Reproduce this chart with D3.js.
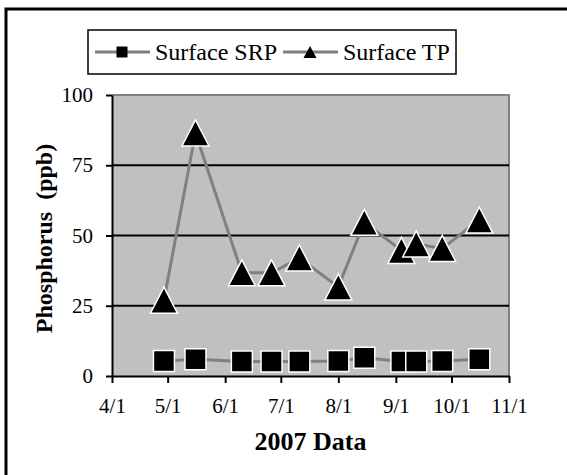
<!DOCTYPE html>
<html>
<head>
<meta charset="utf-8">
<script src="https://cdn.jsdelivr.net/npm/d3@7"></script>
</head>
<body style="margin:0; background:#fff">
<svg id="chart" width="567" height="475"></svg>
<script>

//  sample dates (2007) and readings in ppb
var dates = ['2007-04-29', '2007-05-16', '2007-06-10', '2007-06-26', '2007-07-11',
             '2007-08-01', '2007-08-15', '2007-09-04', '2007-09-12', '2007-09-26', '2007-10-16'];

var srp = [5.3, 6, 5.2, 5.2, 5.2, 5.3, 6.5, 5.2, 5.2, 5.3, 6];

var tp = [27, 86.5, 36.7, 36.7, 42, 31.7, 54.7, 44.7, 47, 45.4, 55.5];

var series_names = ['Surface SRP', 'Surface TP'];

var y_ticks = [0, 25, 50, 75, 100];

var x_ticks = ['2007-04-01', '2007-05-01', '2007-06-01', '2007-07-01',
               '2007-08-01', '2007-09-01', '2007-10-01', '2007-11-01'];

var FONT = 'Liberation Serif';

var parse = d3.timeParse('%Y-%m-%d');
var fmt = d3.timeFormat('%-m/%-d');

var plot = { left: 112, right: 509, top: 95, bottom: 376 };

var svg = d3.select('#chart');

//  outer frame (only top and left edges show)
svg.append('path')
    .attr('d', 'M6,475 L6,9 L567,9')
    .attr('fill', 'none')
    .attr('stroke', '#000')
    .attr('stroke-width', 3);

var x = d3.scaleTime()
    .domain([parse(x_ticks[0]), parse(x_ticks[x_ticks.length - 1])])
    .range([plot.left, plot.right]);

var y = d3.scaleLinear()
    .domain([0, 100])
    .range([plot.bottom, plot.top]);

//  plot background
svg.append('rect')
    .attr('x', plot.left)
    .attr('y', plot.top)
    .attr('width', plot.right - plot.left)
    .attr('height', plot.bottom - plot.top)
    .attr('fill', '#c0c0c0');

svg.append('path')
    .attr('d', 'M' + plot.left + ',' + plot.top + ' L' + plot.right + ',' + plot.top + ' L' + plot.right + ',' + plot.bottom)
    .attr('fill', 'none')
    .attr('stroke', '#808080')
    .attr('stroke-width', 2);

//  gridlines
svg.append('g')
    .selectAll('line')
    .data(y_ticks.filter(function(d) { return d > 0 && d < 100; }))
    .enter()
    .append('line')
    .attr('x1', plot.left)
    .attr('x2', plot.right)
    .attr('y1', function(d) { return y(d); })
    .attr('y2', function(d) { return y(d); })
    .attr('stroke', '#000')
    .attr('stroke-width', 2);

//  axes
var xAxis = svg.append('g')
    .attr('transform', 'translate(0,' + plot.bottom + ')')
    .call(d3.axisBottom(x)
        .tickValues(x_ticks.map(parse))
        .tickFormat(fmt)
        .tickSize(7)
        .tickPadding(15)
        .tickSizeOuter(0));

var yAxis = svg.append('g')
    .attr('transform', 'translate(' + plot.left + ',0)')
    .call(d3.axisLeft(y)
        .tickValues(y_ticks)
        .tickSize(6)
        .tickPadding(13)
        .tickSizeOuter(0));

[xAxis, yAxis].forEach(function(a) {
    a.attr('font-family', FONT).attr('font-size', 21);
    a.select('.domain').attr('stroke', '#000').attr('stroke-width', 2);
    a.selectAll('.tick line').attr('stroke', '#000').attr('stroke-width', 2);
    a.selectAll('.tick text')
        .attr('font-family', FONT)
        .attr('font-size', 21)
        .attr('fill', '#000');
});

//  axis titles
svg.append('text')
    .attr('x', (plot.left + plot.right) / 2)
    .attr('y', 450)
    .attr('text-anchor', 'middle')
    .attr('font-family', FONT)
    .attr('font-size', 26)
    .attr('font-weight', 'bold')
    .text('2007 Data');

svg.append('text')
    .attr('transform', 'translate(52,' + ((plot.top + plot.bottom) / 2 + 3) + ') rotate(-90)')
    .attr('text-anchor', 'middle')
    .attr('font-family', FONT)
    .attr('font-size', 24)
    .attr('font-weight', 'bold')
    .style('white-space', 'pre')
    .text('Phosphorus  (ppb)');

//  series
var line = d3.line()
    .x(function(d) { return x(d.date); })
    .y(function(d) { return y(d.value); });

function toPoints(values) {
    return values.map(function(v, i) { return { date: parse(dates[i]), value: v }; });
}

function triangle(w, h) {
    return 'M0,' + (-h / 2) + ' L' + (w / 2) + ',' + (h / 2) + ' L' + (-w / 2) + ',' + (h / 2) + ' Z';
}

function square(s) {
    return 'M' + (-s / 2) + ',' + (-s / 2) + ' h' + s + ' v' + s + ' h' + (-s) + ' Z';
}

var series = [
    { name: series_names[0], points: toPoints(srp), marker: square(21), legend_marker: square(11) },
    { name: series_names[1], points: toPoints(tp), marker: triangle(27, 26), legend_marker: triangle(13, 12) }
];

series.forEach(function(s) {

    var g = svg.append('g');

    g.append('path')
        .datum(s.points)
        .attr('d', line)
        .attr('fill', 'none')
        .attr('stroke', '#808080')
        .attr('stroke-width', 3);

    g.selectAll('.marker')
        .data(s.points)
        .enter()
        .append('path')
        .attr('class', 'marker')
        .attr('transform', function(d) { return 'translate(' + x(d.date) + ',' + y(d.value) + ')'; })
        .attr('d', s.marker)
        .attr('fill', '#000')
        .attr('stroke', '#fff')
        .attr('stroke-width', 1.5);
});

//  legend
var legend = svg.append('g');

legend.append('rect')
    .attr('x', 88)
    .attr('y', 30)
    .attr('width', 368)
    .attr('height', 44)
    .attr('fill', '#fff')
    .attr('stroke', '#000')
    .attr('stroke-width', 1.5);

var legend_x = [95, 283];

series.forEach(function(s, i) {

    var item = legend.append('g')
        .attr('transform', 'translate(' + legend_x[i] + ',52)');

    item.append('line')
        .attr('x1', 0)
        .attr('x2', 55)
        .attr('stroke', '#808080')
        .attr('stroke-width', 3);

    item.append('path')
        .attr('transform', 'translate(27,0)')
        .attr('d', s.legend_marker)
        .attr('fill', '#000');

    item.append('text')
        .attr('x', 60)
        .attr('y', 8)
        .attr('font-family', FONT)
        .attr('font-size', 24)
        .text(s.name);
});

</script>
</body>
</html>
